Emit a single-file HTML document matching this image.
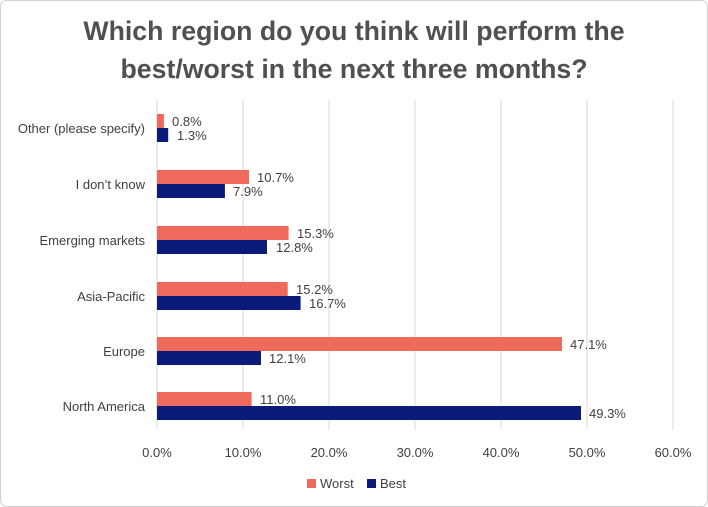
<!DOCTYPE html>
<html><head><style>
body{margin:0;background:#fff}
svg{display:block;font-family:"Liberation Sans",Arial,sans-serif}
</style></head><body>
<svg width="708" height="507" viewBox="0 0 708 507">
<rect x="0.5" y="0.5" width="707" height="506" rx="6" fill="#fff" stroke="#d0d0d0"/>
<text x="354" y="40" text-anchor="middle" font-size="26.7" font-weight="bold" fill="#505050">Which region do you think will perform the</text>
<text x="354" y="78" text-anchor="middle" font-size="26.7" font-weight="bold" fill="#505050">best/worst in the next three months?</text>
<g stroke="#d9d9d9" stroke-width="1">
<line x1="157" y1="100" x2="157" y2="430"/>
<line x1="243" y1="100" x2="243" y2="430"/>
<line x1="329" y1="100" x2="329" y2="430"/>
<line x1="415" y1="100" x2="415" y2="430"/>
<line x1="501" y1="100" x2="501" y2="430"/>
<line x1="587" y1="100" x2="587" y2="430"/>
<line x1="673" y1="100" x2="673" y2="430"/>
</g>
<g font-size="13" fill="#404040">
<g text-anchor="middle">
<text x="157" y="457">0.0%</text><text x="243" y="457">10.0%</text><text x="329" y="457">20.0%</text><text x="415" y="457">30.0%</text><text x="501" y="457">40.0%</text><text x="587" y="457">50.0%</text><text x="673" y="457">60.0%</text>
</g>
<g text-anchor="end">
<text x="145" y="133">Other (please specify)</text>
<text x="145" y="189">I don’t know</text>
<text x="145" y="245">Emerging markets</text>
<text x="145" y="301">Asia-Pacific</text>
<text x="145" y="356">Europe</text>
<text x="145" y="411">North America</text>
</g>
</g>
<g fill="#ef6a5a">
<rect x="157" y="114" width="6.9" height="14"/>
<rect x="157" y="170" width="92" height="14"/>
<rect x="157" y="226" width="131.6" height="14"/>
<rect x="157" y="282" width="130.7" height="14"/>
<rect x="157" y="337" width="405" height="14"/>
<rect x="157" y="392" width="94.6" height="14"/>
</g>
<g fill="#0c1a7a">
<rect x="157" y="128" width="11.2" height="14"/>
<rect x="157" y="184" width="67.9" height="14"/>
<rect x="157" y="240" width="110" height="14"/>
<rect x="157" y="296" width="143.6" height="14"/>
<rect x="157" y="351" width="104" height="14"/>
<rect x="157" y="406" width="424" height="14"/>
</g>
<g font-size="13" fill="#404040">
<text x="172" y="126">0.8%</text><text x="177" y="140">1.3%</text>
<text x="257" y="182">10.7%</text><text x="233" y="196">7.9%</text>
<text x="297" y="238">15.3%</text><text x="276" y="252">12.8%</text>
<text x="296" y="294">15.2%</text><text x="309" y="308">16.7%</text>
<text x="570" y="349">47.1%</text><text x="269" y="363">12.1%</text>
<text x="260" y="404">11.0%</text><text x="589" y="418">49.3%</text>
</g>
<rect x="307" y="479" width="9" height="9" fill="#ef6a5a"/>
<text x="320" y="488" font-size="13" fill="#404040">Worst</text>
<rect x="367" y="479" width="9" height="9" fill="#0c1a7a"/>
<text x="380" y="488" font-size="13" fill="#404040">Best</text>
</svg>
</body></html>
